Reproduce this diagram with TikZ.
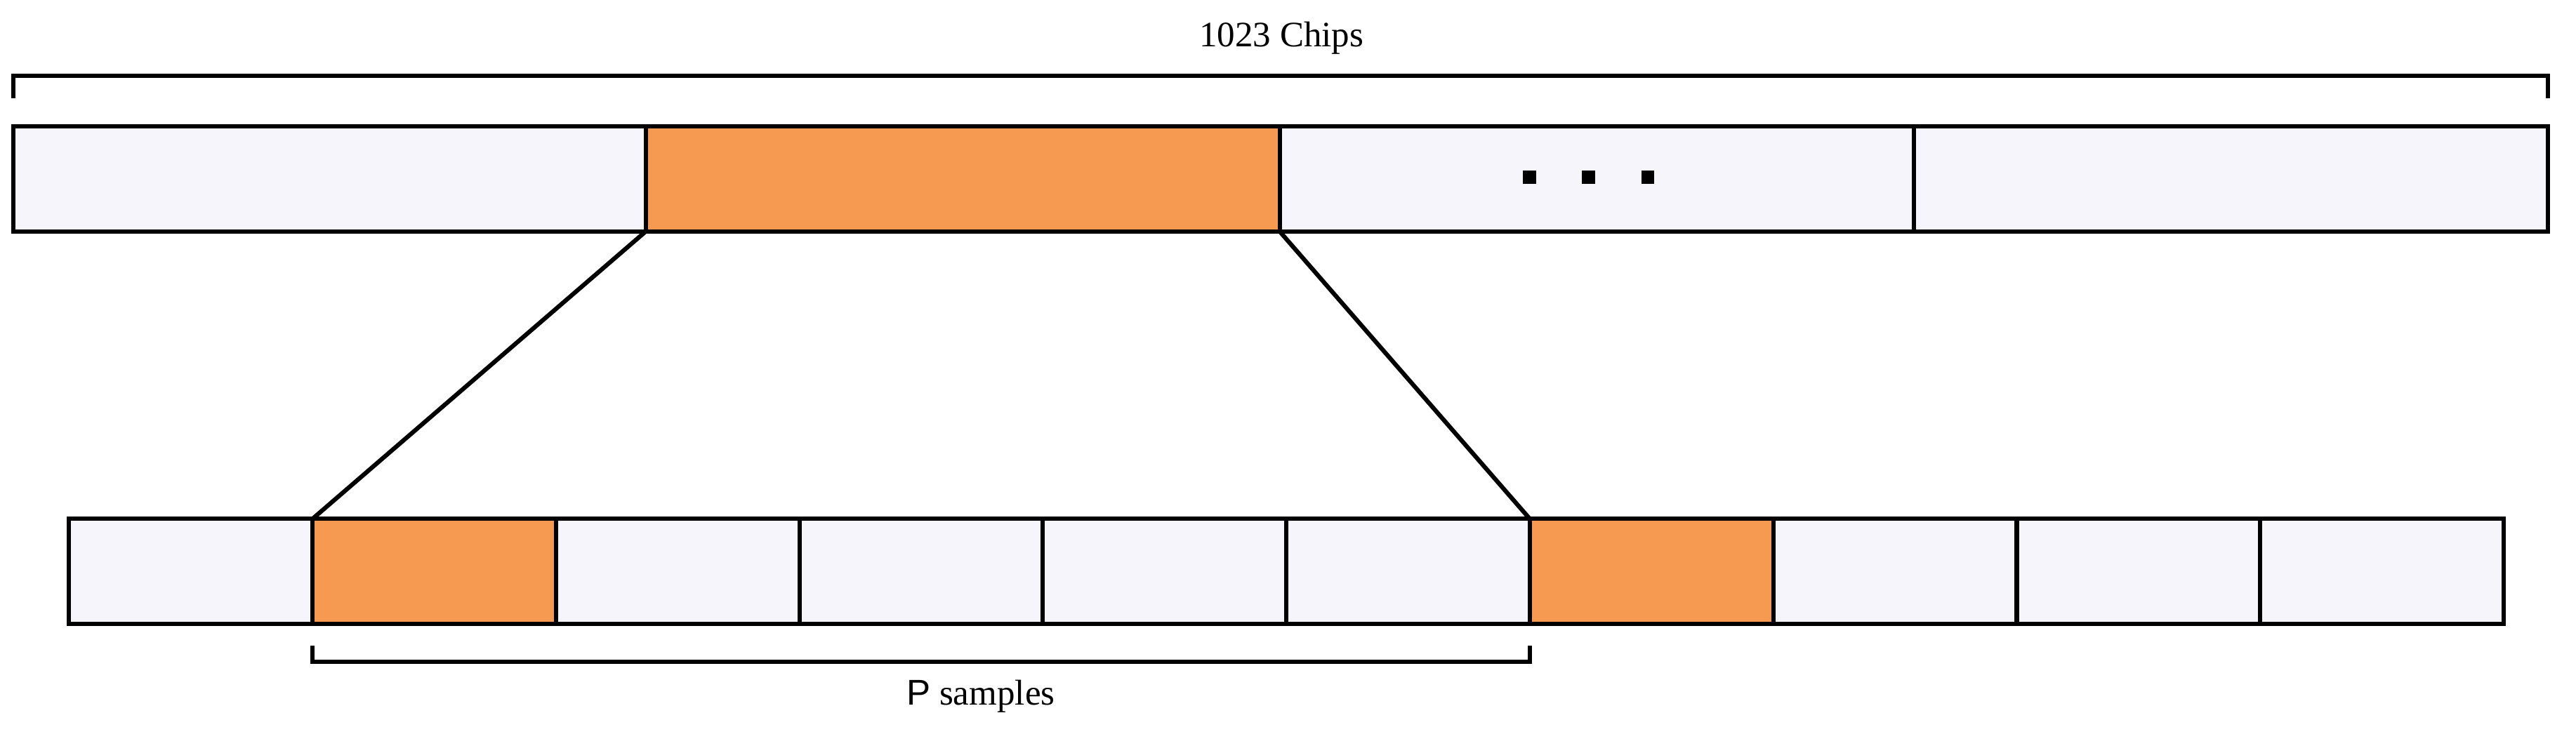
\documentclass[tikz,border=0pt]{standalone}
\usepackage{fontspec}
\setmainfont{Liberation Serif}
\newfontfamily\sansP{Liberation Sans}
\definecolor{cellbg}{HTML}{F7F5FC}
\definecolor{hl}{HTML}{F59A50}
\begin{document}
\begin{tikzpicture}[x=0.01cm,y=-0.01cm,line width=0.75pt,
  cell/.style={draw=black,fill=cellbg},
  hcell/.style={draw=black,fill=hl},
  lbl/.style={font=\fontsize{6.2pt}{7pt}\selectfont,inner sep=0pt}]
\useasboundingbox (0,0) rectangle (1568,454.3);
% top bar
\draw[cell] (8,77) rectangle (393,141);
\draw[hcell] (393,77) rectangle (779,141);
\draw[cell] (779,77) rectangle (1165,141);
\draw[cell] (1165,77) rectangle (1551,141);
\coordinate (tl) at (393,141); \coordinate (tr) at (779,141);
\foreach \x in {931,967,1003} \fill (\x-4,104) rectangle (\x+4,112);
% top bracket
\draw (8,60) -- (8,46) -- (1551,46) -- (1551,60);
\node[lbl] (chips) at (780,23) {1023 Chips};
% bottom bar
\foreach \i [evaluate=\i as \xa using 42+148.2*\i, evaluate=\i as \xb using 42+148.2*(\i+1)] in {0,...,9} {
  \draw[cell] (\xa,316) rectangle (\xb,380);
}
\draw[hcell] (190.2,316) rectangle (338.4,380);
\draw[hcell] (931.2,316) rectangle (1079.4,380);
\coordinate (bl) at (190.2,316); \coordinate (br) at (931.2,316);
\draw (tl) -- (bl);
\draw (tr) -- (br);
% bottom bracket
\draw (190.2,393) -- (190.2,403) -- (931.2,403) -- (931.2,393);
\node[lbl] (ps) at (597,424) {{\sansP P} samples};
\end{tikzpicture}
\end{document}
